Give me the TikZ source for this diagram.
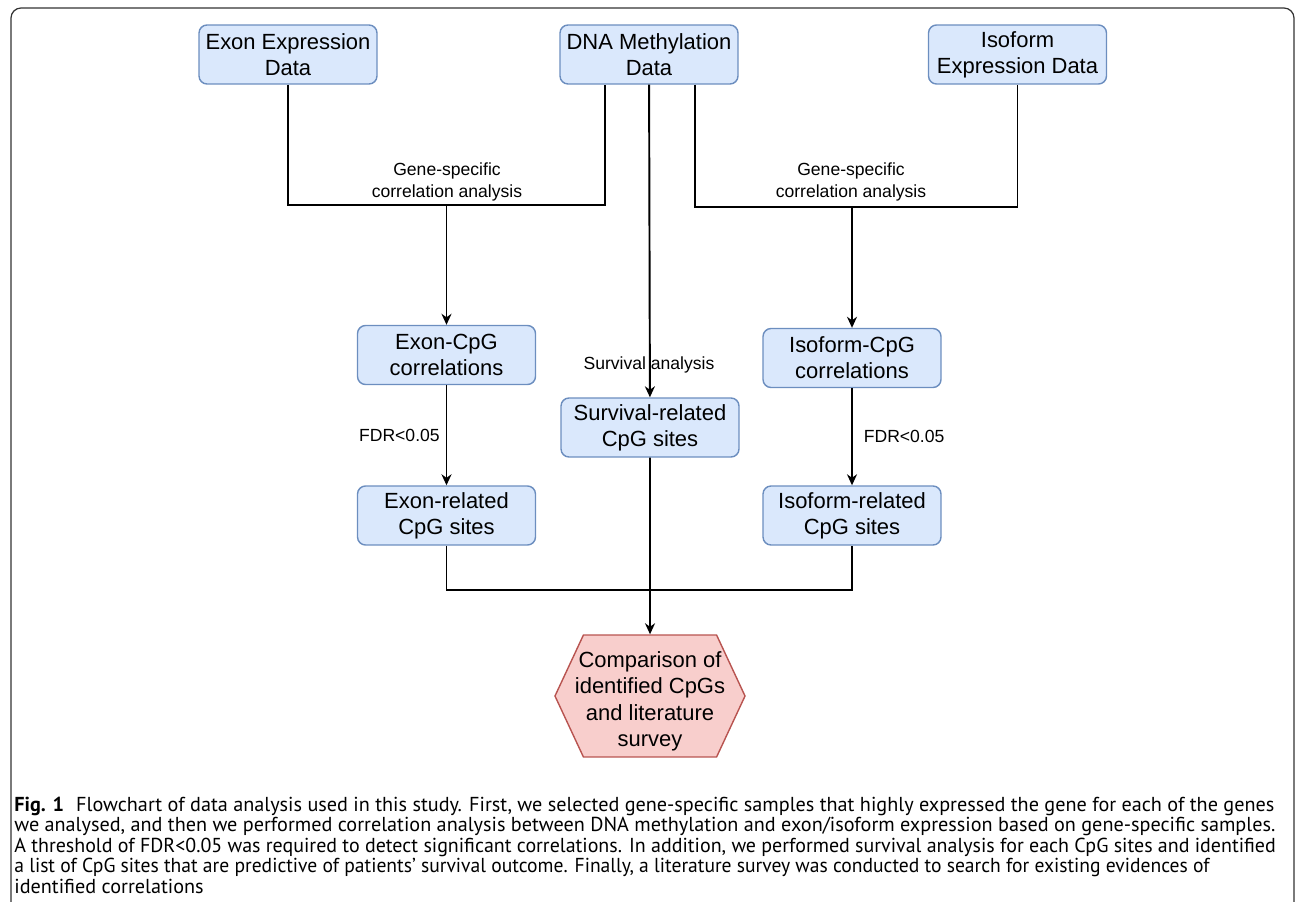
\documentclass[tikz,border=0pt]{standalone}
\usepackage{fontspec}
\setmainfont{Liberation Sans}
\newfontfamily\capfont{PT Sans}
\usetikzlibrary{positioning}
\usetikzlibrary{shapes.symbols}
\usetikzlibrary{arrows.meta}

\definecolor{boxfill}{HTML}{DAE8FC}
\definecolor{boxline}{HTML}{6C8EBF}
\definecolor{hexfill}{HTML}{F8CECC}
\definecolor{hexline}{HTML}{B85450}

\begin{document}
\begin{tikzpicture}[x=0.02cm,y=-0.02cm,
 box/.style={draw=boxline,fill=boxfill,line width=0.8pt,rounded corners=0.16cm,minimum width=3.56cm,minimum height=1.18cm,inner sep=1pt,align=center,font=\fontsize{12.5}{14.7}\selectfont},
 hexbox/.style={shape=signal,signal to=west and east,signal pointer angle=130,draw=hexline,fill=hexfill,line width=0.8pt,minimum height=2.44cm,inner xsep=-0.17cm,inner ysep=1pt,align=center,font=\fontsize{12.5}{14.9}\selectfont},
 lbl/.style={font=\fontsize{10}{12.5}\selectfont,align=center},
 conn/.style={line width=1.1pt},
 arr/.style={conn,-{Stealth[length=0.22cm,width=0.2cm,inset=0.07cm]}},
 capline/.style={anchor=base west,inner sep=0pt,font=\capfont\fontsize{11.5}{12}\selectfont}]
 \useasboundingbox (0,0) rectangle (1295,902);
 \clip (0,0) rectangle (1295,902);
 \draw[line width=0.7pt,black!80,rounded corners=0.2cm] (11,8) rectangle (1294,960);

 % input data
 \node[box] (exonexp) at (288,54.5) {Exon Expression\\Data};
 \node[box] (dna) at (649,54.5) {DNA Methylation\\Data};
 \node[box] (isoexp) at (1017.5,54.5) {Isoform\\Expression Data};

 % intermediate results
 \node[box] (exoncpg) at (446.5,355) {Exon-CpG\\correlations};
 \node[box] (isocpg) at (852,358) {Isoform-CpG\\correlations};
 \node[box] (survival) at (650,427.5) {Survival-related\\CpG sites};
 \node[box] (exonrel) at (446.5,515.5) {Exon-related\\CpG sites};
 \node[box] (isorel) at (852,515.5) {Isoform-related\\CpG sites};
 \node[hexbox] (comp) at (650,696) {\rule{0pt}{0.53cm}Comparison of\\identified CpGs\\and literature\\survey};

 \coordinate (jl) at (446.5,205);
 \coordinate (jr) at (852,207);
 \coordinate (jb) at (650,590);

 \draw[conn] (exonexp.south) |- (jl) -| ([xshift=-0.88cm]dna.south);
 \draw[arr] (jl) -- (exoncpg);
 \node[lbl] (genel) at (447,182) {Gene-specific\\correlation analysis};
 \draw[conn] ([xshift=0.92cm]dna.south) |- (jr) -| (isoexp.south);
 \draw[arr] (jr) -- (isocpg);
 \node[lbl] (gener) at (851,182) {Gene-specific\\correlation analysis};

 \draw[arr] (dna) -- (survival);
 \node[lbl] (survl) at (649,365) {Survival analysis};

 \draw[arr] (exoncpg) -- node[lbl,left] {FDR<0.05} (exonrel);
 \draw[arr] (isocpg) -- node[lbl,right,xshift=0.1cm] {FDR<0.05} (isorel);

 \draw[conn] (exonrel.south) |- (jb) -| (isorel.south);
 \draw[arr] (survival) -- (comp);

 % caption
 \node[capline] (cap1) at (14,811) {\textbf{Fig. 1}\hspace{0.6em}Flowchart of data analysis used in this study. First, we selected gene-specific samples that highly expressed the gene for each of the genes};
 \node[capline] (cap2) at (14,831.5) {we analysed, and then we performed correlation analysis between DNA methylation and exon/isoform expression based on gene-specific samples.};
 \node[capline] (cap3) at (14,852) {\scalebox{0.988}[1]{A threshold of FDR<0.05 was required to detect significant correlations. In addition, we performed survival analysis for each CpG sites and identified}};
 \node[capline] (cap4) at (14,872.5) {\scalebox{0.969}[1]{a list of CpG sites that are predictive of patients’ survival outcome. Finally, a literature survey was conducted to search for existing evidences of}};
 \node[capline] (cap5) at (14,893) {identified correlations};
\end{tikzpicture}
\end{document}
